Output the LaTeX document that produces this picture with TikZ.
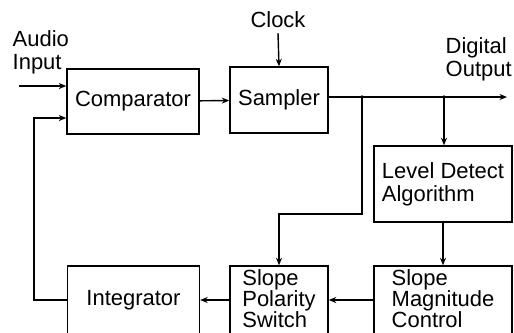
\documentclass[tikz,border=0pt]{standalone}
\usepackage{fontspec}
\setmainfont{Liberation Sans}
\usetikzlibrary{positioning,arrows.meta}

\begin{document}
\begin{tikzpicture}[
    x=0.02cm, y=-0.02cm,
    font=\fontsize{12.5}{12}\selectfont,
    >={Stealth[length=1.5mm, width=1.2mm]},
    line width=0.8pt,
    blk/.style={draw, inner sep=0pt, align=left},
    wide/.style={blk, minimum width=2.64cm},
    narrow/.style={blk, minimum width=1.96cm},
    low/.style={minimum height=1.36cm, text depth=2pt},
    sig/.style={->},
    lab/.style={align=left, inner sep=0pt},
  ]
  \useasboundingbox (0,0) rectangle (514,332);
  \clip (0,0) rectangle (514,332);

  % ============ Top row ============
  \node[wide, minimum height=1.3cm] (comp) at (133,101.5) {Comparator};
  \node[narrow, minimum height=1.32cm] (samp) at (279,100) {Sampler};
  \node[blk, minimum width=2.76cm, minimum height=1.52cm, font=\fontsize{12.5}{13.2}\selectfont] (lvl) at (443,184) {Level Detect\\Algorithm};

  % ============ Bottom row (cut by the frame) ============
  \node[wide, minimum height=1.36cm] (integ) at (133.5,300) {Integrator};
  \node[narrow, low] (pol) at (279,300) {Slope\\Polarity\\Switch};
  \node[blk, minimum width=2.76cm, low] (mag) at (443,300) {Slope\\Magnitude\\Control};

  % ============ Labels ============
  \node[lab, anchor=west, font=\fontsize{12.5}{13.2}\selectfont] (ain) at (12,52) {Audio\\Input};
  \node[lab, inner sep=2.5pt] (clk) at (278,20) {Clock};
  \node[lab, anchor=west, font=\fontsize{12.5}{13.2}\selectfont] (dout) at (445,59) {Digital\\Output};

  \coordinate (inL) at (19,86);
  \coordinate (j1) at (362,97);
  \coordinate (j2) at (444,97);
  \coordinate (outR) at (507,97);
  \coordinate (bend) at (362,214);
  \coordinate (fbL) at (34,118);

  % ============ Forward path ============
  \draw[sig] (inL) -- (inL -| comp.west);
  \draw[sig] (comp) -- (samp);
  \draw[sig] (clk.south) -- (samp.north);
  \draw[sig] (samp.east |- j1) -- (outR);
  \fill (j1) circle (1.1pt);
  \fill (j2) circle (1.1pt);
  \draw[sig] (j2) -- (j2 |- lvl.north);
  \draw[sig] (j1) -- (bend) -| (pol.north);
  \draw[sig] (lvl) -- (mag);

  % ============ Feedback ============
  \draw[sig] (mag) -- (pol);
  \draw[sig] (pol) -- (integ);
  \draw[sig] (integ.west) -| (fbL) -- (fbL -| comp.west);

\end{tikzpicture}
\end{document}
